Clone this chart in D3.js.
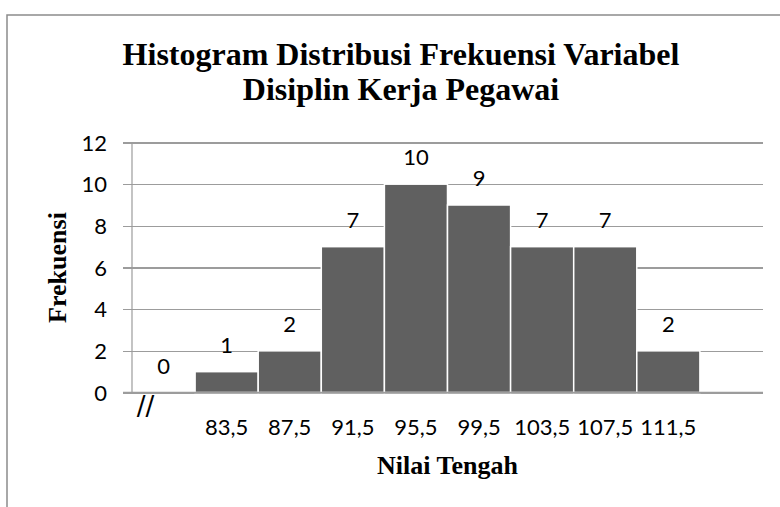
<!DOCTYPE html>
<html>
<head>
<meta charset="utf-8">
<script src="https://cdn.jsdelivr.net/npm/d3@7"></script>
<style>
    body { margin: 0; background: #fff; }
    svg { display: block; }
</style>
</head>
<body>
<div id="chart"></div>
<script>
// data
const categories = ["//", "83,5", "87,5", "91,5", "95,5", "99,5", "103,5", "107,5", "111,5", ""];
const frekuensi = [0, 1, 2, 7, 10, 9, 7, 7, 2, null];
const yTicks = [0, 2, 4, 6, 8, 10, 12];
const titleLines = ["Histogram Distribusi Frekuensi Variabel", "Disiplin Kerja Pegawai"];
const xTitle = "Nilai Tengah";
const yTitle = "Frekuensi";

const width = 780;
const height = 507;
const plot = { left: 132, right: 763, top: 142.5, bottom: 392.5 };
const gridColor = "#9c9c9c";
const numFont = "Lato, 'Noto Sans', sans-serif";
const serif = "'Liberation Serif', 'Times New Roman', serif";

const svg = d3.select("#chart")
    .append("svg")
    .attr("width", width)
    .attr("height", height);

// outer frame (right and bottom edges fall outside the picture)
svg.append("rect")
    .attr("x", 7).attr("y", 15)
    .attr("width", 800).attr("height", 520)
    .attr("fill", "none")
    .attr("stroke", "#8c8c8c")
    .attr("stroke-width", 1.5);

const x = d3.scaleBand()
    .domain(d3.range(categories.length))
    .range([plot.left, plot.right])
    .paddingInner(0);

const y = d3.scaleLinear()
    .domain([0, 12])
    .range([plot.bottom, plot.top]);

// y axis with gridlines running across the plot
const yAxis = svg.append("g")
    .attr("transform", `translate(${plot.left - 9},0)`)
    .call(d3.axisLeft(y)
        .tickValues(yTicks)
        .tickSizeInner(-(plot.right - plot.left + 9))
        .tickSizeOuter(0)
        .tickPadding(16));
yAxis.select(".domain").remove();
yAxis.selectAll(".tick line")
    .attr("stroke", gridColor)
    .attr("stroke-width", 1.2)
    .attr("shape-rendering", "crispEdges");
yAxis.selectAll(".tick text")
    .attr("font-family", numFont)
    .attr("font-size", 22)
    .attr("fill", "#000")
    .attr("dy", "0.35em");

// vertical axis line
svg.append("line")
    .attr("x1", plot.left).attr("x2", plot.left)
    .attr("y1", y(12)).attr("y2", y(0))
    .attr("stroke", gridColor)
    .attr("stroke-width", 1.2);

// bars
svg.append("g")
    .selectAll("rect")
    .data(frekuensi.map((v, i) => ({ i, v })).filter(d => d.v))
    .join("rect")
    .attr("x", d => x(d.i))
    .attr("width", x.bandwidth())
    .attr("y", d => y(d.v))
    .attr("height", d => y(0) - y(d.v))
    .attr("fill", "#606060")
    .attr("stroke", "#fff")
    .attr("stroke-width", 1.5);

// x axis line
svg.append("line")
    .attr("x1", plot.left - 9).attr("x2", plot.right)
    .attr("y1", y(0)).attr("y2", y(0))
    .attr("stroke", gridColor)
    .attr("stroke-width", 1.4);

// category labels
const xAxis = svg.append("g")
    .attr("transform", `translate(0,${y(0)})`)
    .call(d3.axisBottom(x).tickSize(0).tickFormat(i => categories[i]));
xAxis.select(".domain").remove();
xAxis.selectAll(".tick text")
    .attr("font-family", numFont)
    .attr("font-size", 22)
    .attr("fill", "#000")
    .attr("dy", 0)
    .attr("y", 42.5);
// the break mark sits higher and to the left of its band
xAxis.selectAll(".tick text")
    .filter(i => i === 0)
    .attr("font-size", 26)
    .attr("font-family", "'DejaVu Sans', sans-serif")
    .attr("x", -18)
    .attr("y", 22);

// value labels
svg.append("g")
    .selectAll("text")
    .data(frekuensi.map((v, i) => ({ i, v })).filter(d => d.v !== null))
    .join("text")
    .attr("x", d => x(d.i) + x.bandwidth() / 2)
    .attr("y", d => y(d.v) - 19)
    .attr("text-anchor", "middle")
    .attr("font-family", numFont)
    .attr("font-size", 22)
    .text(d => d.v);

// titles
svg.append("text")
    .attr("x", 401)
    .attr("font-family", serif)
    .attr("font-weight", "bold")
    .attr("font-size", 32)
    .attr("text-anchor", "middle")
    .selectAll("tspan")
    .data(titleLines)
    .join("tspan")
    .attr("x", 401)
    .attr("y", (d, i) => 65 + i * 35)
    .text(d => d);

svg.append("text")
    .attr("x", (plot.left + plot.right) / 2)
    .attr("y", 474)
    .attr("text-anchor", "middle")
    .attr("font-family", serif)
    .attr("font-weight", "bold")
    .attr("font-size", 26)
    .text(xTitle);

svg.append("text")
    .attr("transform", `translate(66,${(plot.top + plot.bottom) / 2}) rotate(-90)`)
    .attr("text-anchor", "middle")
    .attr("font-family", serif)
    .attr("font-weight", "bold")
    .attr("font-size", 26)
    .text(yTitle);
</script>
</body>
</html>
